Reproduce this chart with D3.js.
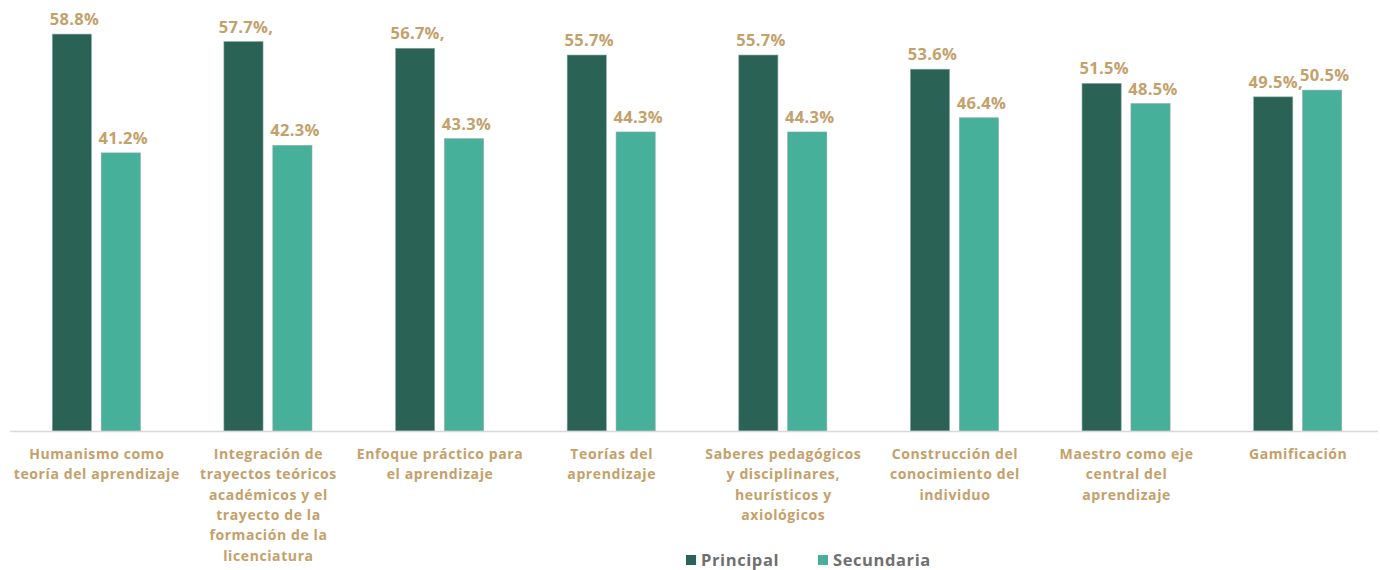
<!DOCTYPE html>
<html>
<head>
<meta charset="utf-8">
<script src="https://cdn.jsdelivr.net/npm/d3@7"></script>
<style>
  body { margin: 0; background: #fff; }
  text { font-family: "Open Sans", "DejaVu Sans", sans-serif; font-weight: 700; }
</style>
</head>
<body>
<div id="chart"></div>
<script>
// categories (line breaks as in the original labels)
var categories = [
  "Humanismo como\nteoría del aprendizaje",
  "Integración de\ntrayectos teóricos\nacadémicos y el\ntrayecto de la\nformación de la\nlicenciatura",
  "Enfoque práctico para\nel aprendizaje",
  "Teorías del\naprendizaje",
  "Saberes pedagógicos\ny disciplinares,\nheurísticos y\naxiológicos",
  "Construcción del\nconocimiento del\nindividuo",
  "Maestro como eje\ncentral del\naprendizaje",
  "Gamificación"
];
var seriesNames = ["Principal", "Secundaria"];
var principal = [58.8, 57.7, 56.7, 55.7, 55.7, 53.6, 51.5, 49.5];
var secundaria = [41.2, 42.3, 43.3, 44.3, 44.3, 46.4, 48.5, 50.5];
// value labels exactly as printed
var principalLabels = ["58.8%", "57.7%,", "56.7%,", "55.7%", "55.7%", "53.6%", "51.5%", "49.5%,"];
var secundariaLabels = ["41.2%", "42.3%", "43.3%", "44.3%", "44.3%", "46.4%", "48.5%", "50.5%"];

var width = 1380, height = 570;
var colors = ["#2a6356", "#47b09a"];
var labelColor = "#c4a06a";

var svg = d3.select("#chart").append("svg")
  .attr("width", width)
  .attr("height", height);

var x0 = d3.scaleBand()
  .domain(d3.range(categories.length))
  .range([10, 1383])
  .paddingInner(0.487)
  .paddingOuter(0.2435);

var x1 = d3.scaleBand()
  .domain([0, 1])
  .range([0, x0.bandwidth()])
  .paddingInner(0.2);

var y = d3.scaleLinear()
  .domain([0, 60])
  .range([431, 26]);

var rows = categories.map(function(c, i) {
  return {
    i: i,
    values: [
      { s: 0, v: principal[i], label: principalLabels[i] },
      { s: 1, v: secundaria[i], label: secundariaLabels[i] }
    ]
  };
});

var groups = svg.selectAll(".group")
  .data(rows)
  .enter()
  .append("g")
  .attr("class", "group")
  .attr("transform", function(d) { return "translate(" + x0(d.i) + ",0)"; });

groups.selectAll("rect")
  .data(function(d) { return d.values; })
  .enter()
  .append("rect")
  .attr("x", function(d) { return x1(d.s) + 0.5; })
  .attr("y", function(d) { return y(d.v); })
  .attr("width", x1.bandwidth())
  .attr("height", function(d) { return y(0) - y(d.v); })
  .attr("fill", function(d) { return colors[d.s]; })
  .attr("stroke", "#8aa8a0")
  .attr("stroke-width", 0.6);

groups.selectAll(".val")
  .data(function(d) { return d.values; })
  .enter()
  .append("text")
  .attr("class", "val")
  .attr("x", function(d) { return x1(d.s) + x1.bandwidth() / 2 + 3; })
  .attr("y", function(d) { return y(d.v) - 9; })
  .attr("text-anchor", "middle")
  .attr("fill", labelColor)
  .style("font-size", "16.5px")
  .style("letter-spacing", "0.3px")
  .text(function(d) { return d.label; });

//axis line
var xAxis = d3.axisBottom(x0).tickSize(0).tickFormat("");
var axisG = svg.append("g")
  .attr("transform", "translate(0," + (y(0) + 0.5) + ")")
  .call(xAxis);
axisG.select(".domain").attr("stroke", "#d9d9d9").attr("stroke-width", 1.5)
  .attr("d", "M10,0H1378");

//category labels
var catLabels = svg.selectAll(".cat")
  .data(categories)
  .enter()
  .append("text")
  .attr("class", "cat")
  .attr("x", function(d, i) { return x0(i) + x0.bandwidth() / 2 + 1; })
  .attr("y", 459)
  .attr("text-anchor", "middle")
  .attr("fill", labelColor)
  .style("font-size", "14px")
  .style("letter-spacing", "0.6px");

catLabels.selectAll("tspan")
  .data(function(d) { return d.split("\n"); })
  .enter()
  .append("tspan")
  .attr("x", function() { return d3.select(this.parentNode).attr("x"); })
  .attr("dy", function(d, i) { return i === 0 ? 0 : 20.3; })
  .text(function(d) { return d; });

//legend
var legendX = [686, 818];
var legend = svg.selectAll(".legend")
  .data(seriesNames)
  .enter()
  .append("g")
  .attr("class", "legend")
  .attr("transform", function(d, i) { return "translate(" + legendX[i] + ",555)"; });

legend.append("rect")
  .attr("width", 10)
  .attr("height", 10)
  .attr("fill", function(d, i) { return colors[i]; });

legend.append("text")
  .attr("x", 15)
  .attr("y", 10.5)
  .attr("fill", "#6f6f6f")
  .style("font-size", "16.5px")
  .style("letter-spacing", "0.6px")
  .text(function(d) { return d; });
</script>
</body>
</html>
